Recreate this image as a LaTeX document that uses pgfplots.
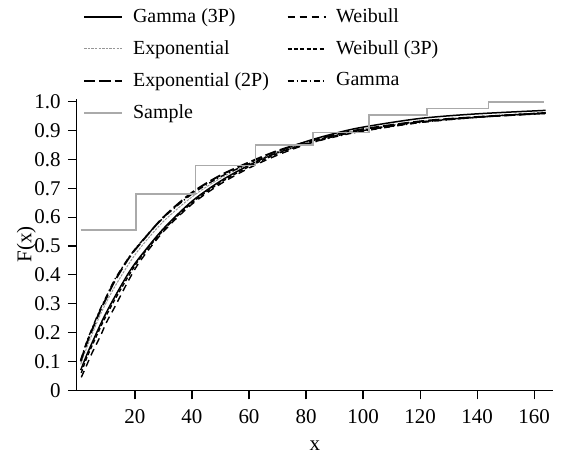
\documentclass[border=0pt]{standalone}
\usepackage{fontspec}
\setmainfont{Liberation Serif}
\usepackage{pgfplots}
\pgfplotsset{compat=1.18}

\definecolor{samplegray}{RGB}{170,170,170}
\definecolor{expgray}{RGB}{150,150,150}

\begin{document}
\fontsize{10.5}{12}\selectfont
\begin{tikzpicture}
\begin{axis}[
  name=ax,
  scale only axis,
  width=238.5pt, height=146pt,
  xmin=-0.35, xmax=166.6, ymin=0, ymax=1.01,
  axis lines=left,
  axis line style={line width=0.6pt, -},
  tick align=outside,
  tick style={line width=0.6pt, black},
  major tick length=4.5pt,
  xtick={20,40,60,80,100,120,140,160},
  ytick={0,0.1,0.2,0.3,0.4,0.5,0.6,0.7,0.8,0.9,1.0},
  yticklabels={0,0.1,0.2,0.3,0.4,0.5,0.6,0.7,0.8,0.9,1.0},
  /pgf/number format/assume math mode=true,
  tick label style={font=\fontsize{10.5}{12}\selectfont},
  xticklabel style={yshift=-1.5pt},
  label style={font=\fontsize{10.5}{12}\selectfont},
  xlabel={x}, ylabel={F(x)},
  xlabel shift=1.5pt,
  ylabel shift=-8pt,
  legend columns=2,
  legend cell align=left,
  legend style={draw=none, fill=none, inner sep=0pt,
    at={(0,1)}, anchor=north west, xshift=3pt, yshift=47.5pt,
    font=\fontsize{10}{12}\selectfont,
    row sep=3.5pt,
    /tikz/every odd column/.append style={column sep=3pt},
    /tikz/every even column/.append style={column sep=7pt}},
  legend image code/.code={\draw[#1] (0pt,0pt) -- (19pt,0pt);},
]
% Gamma (3P)
\addplot[black, line width=0.75pt, smooth] coordinates {
 (1,0.07)(3,0.12)(5,0.165)(8,0.23)(10,0.27)(13,0.325)(18,0.41)(22,0.465)
 (30,0.56)(40,0.655)(50,0.725)(60,0.78)(70,0.825)(80,0.862)(90,0.89)
 (100,0.912)(120,0.942)(140,0.958)(164,0.970)
};
% Weibull
\addplot[black, line width=0.7pt, dash pattern=on 3.5pt off 2.5pt, smooth] coordinates {
 (1.2,0.045)(3,0.085)(5,0.13)(8,0.19)(10,0.235)(13,0.29)(18,0.385)(22,0.45)
 (30,0.55)(40,0.645)(50,0.715)(60,0.77)(70,0.815)(80,0.852)(90,0.88)
 (100,0.90)(120,0.928)(140,0.946)(164,0.96)
};
% Exponential
\addplot[expgray, line width=0.5pt, dash pattern=on 1.2pt off 0.6pt, smooth] coordinates {
 (1,0.09)(3,0.145)(5,0.195)(8,0.265)(10,0.305)(13,0.36)(18,0.44)(22,0.495)
 (30,0.585)(40,0.67)(50,0.735)(60,0.785)(70,0.825)(80,0.857)(90,0.883)
 (100,0.904)(120,0.932)(140,0.948)(164,0.962)
};
% Weibull (3P)
\addplot[black, line width=0.7pt, dash pattern=on 2pt off 1.2pt, smooth] coordinates {
 (1.2,0.06)(3,0.11)(5,0.155)(8,0.22)(10,0.26)(13,0.315)(18,0.40)(22,0.46)
 (30,0.555)(40,0.65)(50,0.72)(60,0.775)(70,0.82)(80,0.855)(90,0.882)
 (100,0.902)(120,0.93)(140,0.947)(164,0.961)
};
% Exponential (2P)
\addplot[black, line width=0.95pt, dash pattern=on 5.6pt off 2pt, smooth] coordinates {
 (1,0.10)(3,0.16)(5,0.21)(8,0.28)(10,0.32)(13,0.38)(18,0.46)(22,0.51)
 (30,0.60)(40,0.685)(50,0.745)(60,0.79)(70,0.83)(80,0.86)(90,0.885)
 (100,0.905)(120,0.932)(140,0.947)(164,0.96)
};
% Gamma
\addplot[black, line width=0.7pt, dash pattern=on 3pt off 1.5pt on 0.6pt off 1.5pt, smooth] coordinates {
 (1,0.105)(3,0.165)(5,0.215)(8,0.285)(10,0.325)(13,0.385)(18,0.462)(22,0.512)
 (30,0.598)(40,0.68)(50,0.74)(60,0.785)(70,0.823)(80,0.853)(90,0.878)
 (100,0.898)(120,0.928)(140,0.946)(164,0.962)
};
% Sample (empirical CDF)
\addplot[samplegray, line width=0.8pt] coordinates {
 (1,0.556)(20.3,0.556)(20.3,0.681)(41.3,0.681)(41.3,0.779)(62.3,0.779)
 (62.3,0.849)(82.5,0.849)(82.5,0.894)(102,0.894)(102,0.955)(122.4,0.955)
 (122.4,0.976)(144,0.976)(144,1.0)(163.5,1.0)
};
\legend{Gamma (3P), Weibull, Exponential, Weibull (3P), Exponential (2P), Gamma, Sample}
\end{axis}
\path ([xshift=-38.5pt,yshift=-30.5pt]ax.south west) rectangle ([xshift=7.5pt,yshift=49.5pt]ax.north east);
\end{tikzpicture}
\end{document}
